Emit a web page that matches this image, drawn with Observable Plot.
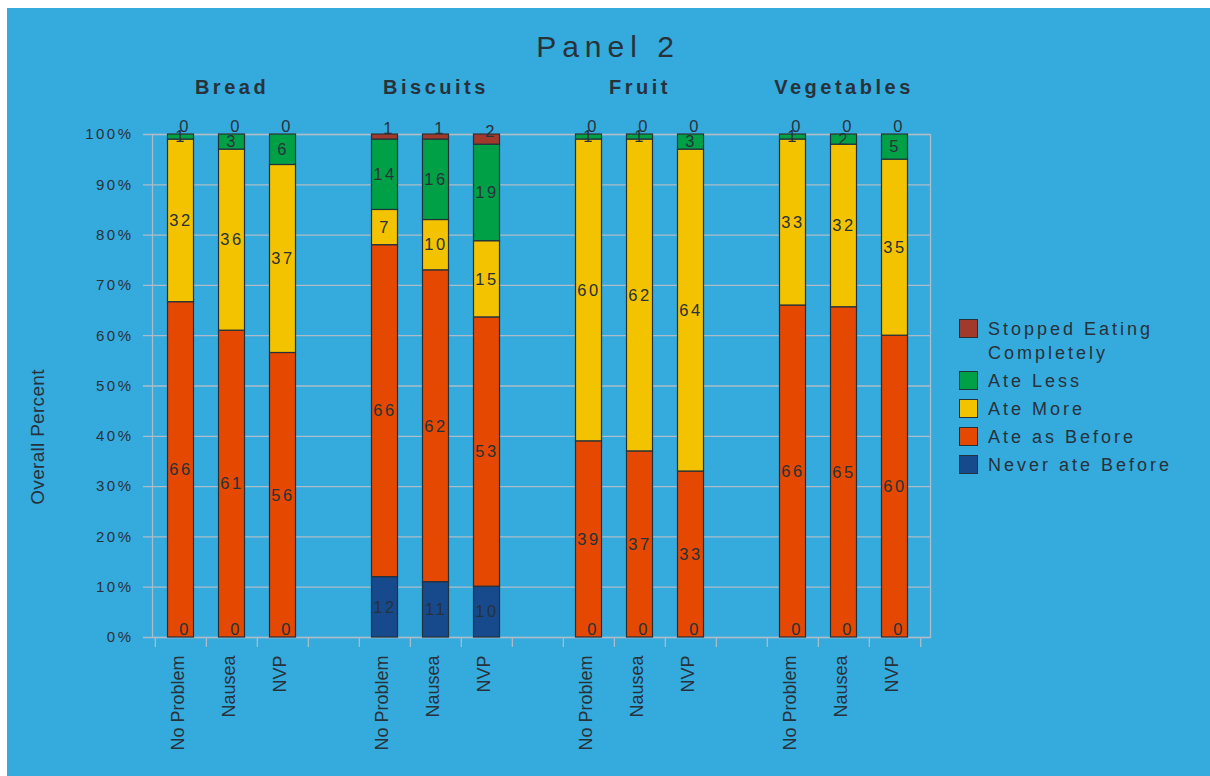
<!DOCTYPE html>
<html>
<head>
<meta charset="utf-8">
<script src="https://cdn.jsdelivr.net/npm/d3@7"></script>
<script src="https://cdn.jsdelivr.net/npm/@observablehq/plot@0.6"></script>
<style>
  html, body { margin: 0; padding: 0; background: #ffffff; }
  body { width: 1210px; height: 776px; position: relative; overflow: hidden;
         font-family: "Liberation Sans", Arial, sans-serif; color: #27323b; }
  #panel { position: absolute; left: 7px; top: 8px; right: 0; bottom: 0; background: #35aadd; }
  #chart { position: absolute; left: 0; top: 0; }
  #title { position: absolute; top: 29px; left: 0; width: 1216px; text-align: center;
           font-size: 30px; letter-spacing: 6px; line-height: 36px; }
  #ylabel { position: absolute; left: 38px; top: 437px; transform: translate(-50%, -50%) rotate(-90deg);
            font-size: 19px; white-space: nowrap; letter-spacing: 0.3px; }
  #legend { position: absolute; left: 959px; top: 317px; font-size: 18px; letter-spacing: 3px; }
  .item { display: flex; align-items: flex-start; margin-bottom: 4px; }
  .swatch { width: 17px; height: 17px; border: 1px solid #23313b; margin-top: 2px; margin-right: 10px; flex: none; }
  .item span { line-height: 24px; max-width: 200px; }
</style>
</head>
<body>
<div id="panel"></div>
<div id="chart"></div>
<div id="title">Panel 2</div>
<div id="ylabel">Overall Percent</div>
<div id="legend"></div>
<script>
// Food groups, respondent conditions and response categories (stacked bottom to top)
const groups = ["Bread", "Biscuits", "Fruit", "Vegetables"];
const conditions = ["No Problem", "Nausea", "NVP"];
const responses = ["Never ate Before", "Ate as Before", "Ate More", "Ate Less", "Stopped Eating Completely"];

// Percent of respondents per bar, in order Bread×3, Biscuits×3, Fruit×3, Vegetables×3
const neverAteBefore = [0, 0, 0, 12, 11, 10, 0, 0, 0, 0, 0, 0];
const ateAsBefore    = [66, 61, 56, 66, 62, 53, 39, 37, 33, 66, 65, 60];
const ateMore        = [32, 36, 37, 7, 10, 15, 60, 62, 64, 33, 32, 35];
const ateLess        = [1, 3, 6, 14, 16, 19, 1, 1, 3, 1, 2, 5];
const stoppedEating  = [0, 0, 0, 1, 1, 2, 0, 0, 0, 0, 0, 0];

const yTicks = [0, 0.1, 0.2, 0.3, 0.4, 0.5, 0.6, 0.7, 0.8, 0.9, 1];
const colors = ["#174a8d", "#e54800", "#f4c300", "#00a046", "#a23a2b"];

const ink = "#27323b";
const gridColor = "#acbcc8";
const series = [neverAteBefore, ateAsBefore, ateMore, ateLess, stoppedEating];
const topResponse = responses[responses.length - 1];

// One band slot per bar plus an empty slot between food groups
const slotId = (g, c) => `${g}|${c}`;
const slots = [];
groups.forEach((g, gi) => {
  conditions.forEach(c => slots.push(slotId(g, c)));
  if (gi < groups.length - 1) slots.push(`gap${gi}`);
});

const data = [];
groups.forEach((g, gi) => conditions.forEach((c, ci) => {
  const k = gi * conditions.length + ci;
  responses.forEach((r, ri) => data.push({group: g, condition: c, slot: slotId(g, c), response: r, value: series[ri][k]}));
}));
const barSlots = groups.flatMap(g => conditions.map(c => ({slot: slotId(g, c), condition: c})));

// labels that sit above their segment: empty segments and the thin top series
const raised = d => d.value === 0 || d.response === topResponse;

const x0 = 152, x1 = 922;
const step = (x1 - x0) / slots.length;
const stackOpts = {x: "slot", y: "value", z: "response", order: responses, offset: "normalize"};

const chart = Plot.plot({
  width: 1210,
  height: 776,
  marginLeft: 152,
  marginRight: 280,
  marginTop: 134,
  marginBottom: 139,
  style: {background: "transparent", color: ink, fontFamily: "Liberation Sans, Arial, sans-serif", fontSize: "15px", overflow: "visible"},
  x: {type: "band", domain: slots, range: [x0, x1], padding: 0, axis: null},
  y: {domain: [0, 1], axis: null},
  color: {domain: responses, range: colors},
  marks: [
    Plot.gridY(yTicks, {stroke: gridColor, strokeOpacity: 1, strokeWidth: 1.3, insetLeft: -9}),
    Plot.frame({stroke: gridColor, strokeWidth: 1.3}),
    Plot.ruleX(slots, {x: d => d, y1: 0, y2: 0, insetBottom: -10, dx: -step / 2, stroke: gridColor, strokeWidth: 1.3}),
    Plot.ruleX(slots.slice(-1), {x: d => d, y1: 0, y2: 0, insetBottom: -10, dx: step / 2, stroke: gridColor, strokeWidth: 1.3}),
    Plot.axisY({ticks: yTicks, tickSize: 0, tickPadding: 19, tickFormat: d => `${Math.round(d * 100)}%`, fontSize: 15, label: null}),
    Plot.barY(data, Plot.stackY({...stackOpts, fill: "response", stroke: "#23313b", strokeWidth: 1.2, insetLeft: 12.5, insetRight: 12.5})),
    // segment values
    Plot.text(data, Plot.stackY({...stackOpts, text: d => raised(d) ? null : String(d.value), fontSize: 16.5, fill: ink})),
    // empty and top segments: value just above the segment
    Plot.text(data, Plot.stackY({...stackOpts, text: d => raised(d) ? String(d.value) : null, fontSize: 16.5, fill: ink, dx: 4, dy: -8})),
    // condition names under each bar
    Plot.text(barSlots, {x: "slot", text: "condition", rotate: -90, textAnchor: "end", frameAnchor: "bottom", dy: 18, dx: 3, fontSize: 18, fill: ink}),
    // food group headings
    Plot.text(groups, {x: g => slotId(g, conditions[1]), text: d => d, frameAnchor: "top", lineAnchor: "middle", dy: -47, fontSize: 20, fontWeight: "bold", fill: ink})
  ]
});
document.getElementById("chart").appendChild(chart);

// letter spacing per text layer
const svg = d3.select(chart);
svg.selectAll('g[aria-label="y-axis tick label"] text').style("letter-spacing", "2.5px");
const textLayers = svg.selectAll('g[aria-label="text"]').nodes();
const spacing = ["2.5px", "2.5px", "0px", "3.5px"];
textLayers.forEach((n, i) => d3.select(n).selectAll("text").style("letter-spacing", spacing[i] || "0px"));

// legend, top to bottom
const legend = d3.select("#legend");
responses.map((r, i) => [r, colors[i]]).reverse().forEach(([r, c]) => {
  const item = legend.append("div").attr("class", "item");
  item.append("div").attr("class", "swatch").style("background", c);
  item.append("span").text(r);
});
</script>
</body>
</html>
